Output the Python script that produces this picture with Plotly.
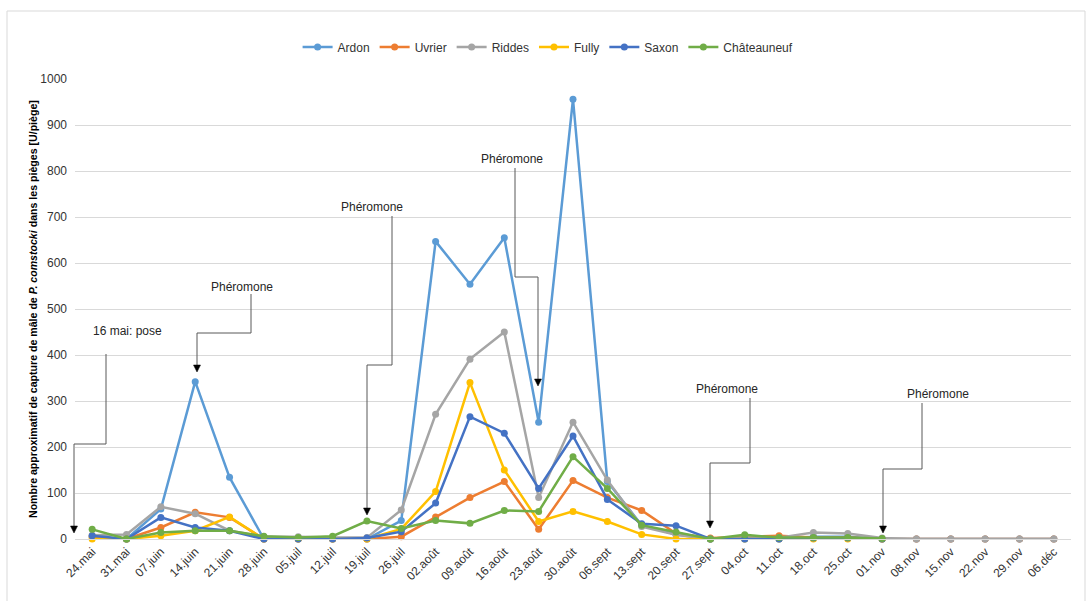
import plotly.graph_objects as go

# Weekly trap dates
dates = ["24.mai", "31.mai", "07.juin", "14.juin", "21.juin", "28.juin", "05.juil",
         "12.juil", "19.juil", "26.juil", "02.août", "09.août", "16.août", "23.août",
         "30.août", "06.sept", "13.sept", "20.sept", "27.sept", "04.oct", "11.oct",
         "18.oct", "25.oct", "01.nov", "08.nov", "15.nov", "22.nov", "29.nov", "06.déc"]

# Male captures per trap, by site
ardon = [5, 0, 65, 342, 134, 0, 0, 0, 0, 40, 647, 554, 655, 254, 956, 125, 30, 10,
         0, 0, 0, 5, 5, 0, 0, 0, 0, 0, 0]
uvrier = [5, 0, 25, 58, 47, 0, 0, 0, 0, 5, 48, 90, 125, 21, 127, 90, 62, 12,
          2, 5, 7, 3, 3, 0, 0, 0, 0, 0, 0]
riddes = [8, 10, 70, 55, 18, 5, 5, 3, 3, 63, 271, 391, 450, 90, 254, 128, 27, 9,
          0, 3, 3, 14, 12, 2, 0, 0, 0, 0, 0]
fully = [0, 0, 7, 18, 48, 0, 0, 0, 0, 22, 103, 340, 150, 38, 60, 38, 10, 0,
         0, 0, 0, 0, 0, 0, None, None, None, None, None]
saxon = [7, 0, 47, 25, 18, 0, 0, 0, 2, 16, 78, 266, 230, 110, 224, 86, 33, 29,
         0, 0, 0, 2, 2, 0, None, None, None, None, None]
chateauneuf = [21, 0, 14, 18, 18, 6, 3, 6, 39, 23, 40, 34, 62, 60, 179, 110, 30, 15,
               0, 9, 3, 3, 3, 1, None, None, None, None, None]

sites = ["Ardon", "Uvrier", "Riddes", "Fully", "Saxon", "Châteauneuf"]
series = [ardon, uvrier, riddes, fully, saxon, chateauneuf]
colors = ["#5B9BD5", "#ED7D31", "#A5A5A5", "#FFC000", "#4472C4", "#70AD47"]

# Callout texts
callout_texts = ["16 mai: pose", "Phéromone", "Phéromone", "Phéromone", "Phéromone", "Phéromone"]

FONT = "Liberation Sans, Arial, sans-serif"
TXT = "#333333"
W, H = 1086, 601
ML, MR, MT, MB = 75, 15, 79, 62
PW, PH = W - ML - MR, H - MT - MB


def px(xp):
    return (xp - ML) / PW


def py(yp):
    return (H - MB - yp) / PH


fig = go.Figure()
for name, vals, col in zip(sites, series, colors):
    fig.add_trace(go.Scatter(
        x=dates, y=vals, name=name, mode="lines+markers",
        line=dict(color=col, width=2.5),
        marker=dict(color=col, size=7),
        cliponaxis=False,
    ))

# Callout layout: label centre, elbow connector, arrow tip (pixel space)
callouts = [
    ((127, 331), [(106, 354), (106, 444), (74, 444), (74, 527)], (74, 533)),
    ((242, 287), [(251, 294), (251, 333), (197, 333), (197, 366)], (197, 372)),
    ((372, 207), [(392, 216), (392, 365), (367, 365), (367, 509)], (367, 515)),
    ((512, 159), [(515, 168), (515, 277), (538, 277), (538, 380)], (538, 386)),
    ((727, 389), [(750, 398), (750, 463), (710, 463), (710, 522)], (710, 528)),
    ((938, 394), [(922, 403), (922, 469), (883, 469), (883, 527)], (883, 533)),
]

shapes = []
annotations = []
for text, (center, pts, tip) in zip(callout_texts, callouts):
    annotations.append(dict(
        x=px(center[0]), y=py(center[1]), xref="paper", yref="paper",
        text=text, showarrow=False, xanchor="center", yanchor="middle",
        font=dict(family=FONT, size=12, color="#262626"),
    ))
    path = "M " + " L ".join(f"{px(a)},{py(b)}" for a, b in pts)
    shapes.append(dict(type="path", xref="paper", yref="paper", path=path,
                       line=dict(color="#595959", width=1)))
    tx, ty = tip
    tri = (f"M {px(tx)},{py(ty)} L {px(tx - 3.5)},{py(ty - 7)} "
           f"L {px(tx + 3.5)},{py(ty - 7)} Z")
    shapes.append(dict(type="path", xref="paper", yref="paper", path=tri,
                       fillcolor="#000000", line=dict(color="#000000", width=0.5)))

# Chart area frame
shapes.append(dict(type="rect", xref="paper", yref="paper",
                   x0=px(7), x1=px(1085), y0=py(11), y1=py(610),
                   line=dict(color="#D9D9D9", width=1), layer="below"))

# Y-axis title
annotations.append(dict(
    x=px(33), y=py(309), xref="paper", yref="paper", textangle=-90,
    text="<b>Nombre approximatif de capture de mâle de <i>P. comstocki</i> "
         "dans les pièges [U/piège]</b>",
    showarrow=False, xanchor="center", yanchor="middle",
    font=dict(family=FONT, size=10.6, color="#000000"),
))

fig.update_layout(
    width=W, height=H,
    margin=dict(l=ML, r=MR, t=MT, b=MB),
    paper_bgcolor="white", plot_bgcolor="white",
    font=dict(family=FONT, size=12, color=TXT),
    legend=dict(orientation="h", x=0.475, xanchor="center", y=py(47),
                yanchor="middle", font=dict(family=FONT, size=12, color=TXT),
                itemwidth=30, tracegroupgap=0),
    shapes=shapes,
    annotations=annotations,
    showlegend=True,
)
fig.update_xaxes(
    type="category", range=[-0.5, len(dates) - 0.5], tickangle=-45,
    showgrid=False, showline=True, linecolor="#D9D9D9", linewidth=1,
    ticks="", tickfont=dict(family=FONT, size=12, color=TXT),
)
fig.update_yaxes(
    range=[0, 1000], dtick=100, showgrid=True, gridcolor="#D9D9D9", gridwidth=1,
    zeroline=False, showline=False, ticks="", ticklabelstandoff=7,
    tickfont=dict(family=FONT, size=12, color=TXT),
)

fig.write_html("out.html")
